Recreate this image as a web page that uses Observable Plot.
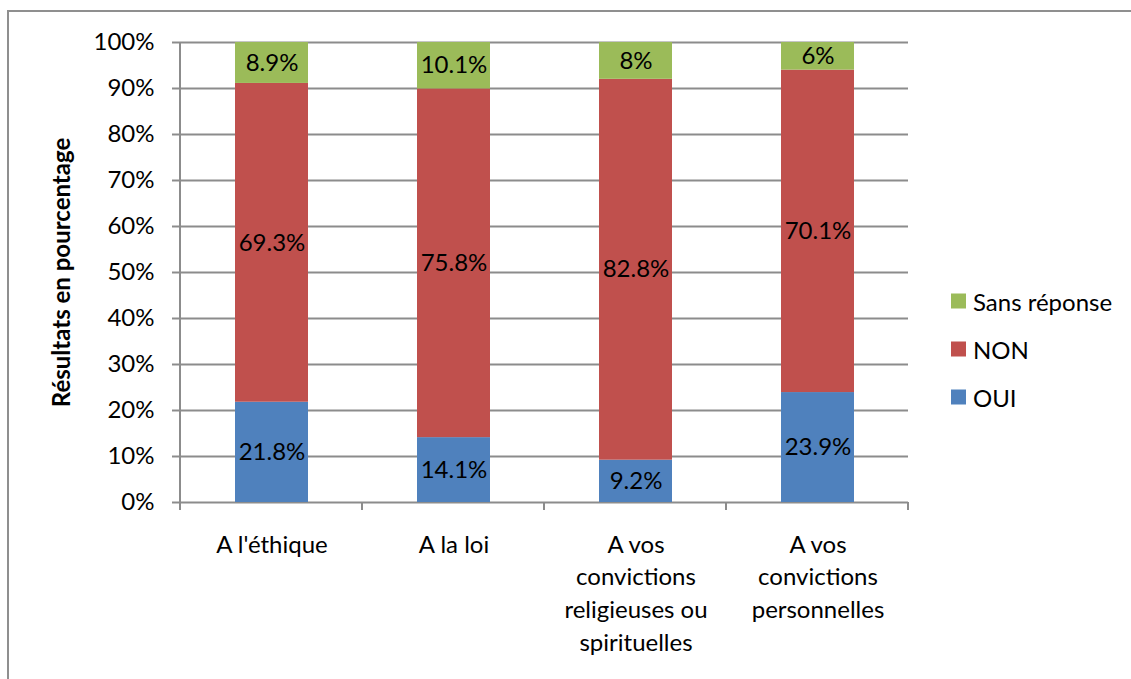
<!DOCTYPE html>
<html>
<head>
<meta charset="utf-8">
<script src="https://cdn.jsdelivr.net/npm/d3@7"></script>
<script src="https://cdn.jsdelivr.net/npm/@observablehq/plot@0.6"></script>
<style>
  html, body { margin: 0; padding: 0; background: #fff; }
  #wrap { position: relative; width: 1131px; height: 679px; overflow: hidden; font-family: Lato, "Open Sans", sans-serif; }
  #border { position: absolute; left: 7px; top: 10px; width: 2000px; height: 2000px; border-left: 2px solid #8f8f8f; border-top: 2px solid #8f8f8f; }
  #legend { position: absolute; left: 951px; top: 0; }
  .item { position: absolute; left: 0; display: flex; align-items: center; white-space: nowrap; font-size: 24px; color: #000; transform: translateY(-50%); }
  .sw { width: 15px; height: 15px; margin-right: 7px; flex: none; }
  #chart { position: absolute; left: 0; top: 0; }
</style>
</head>
<body>
<div id="wrap">
  <div id="border"></div>
  <div id="chart"></div>
  <div id="legend"></div>
</div>
<script>
// ---- Data ----
const categories = ["A l'éthique", "A la loi", "A vos convictions religieuses ou spirituelles", "A vos convictions personnelles"];
const categoryLabels = ["A l'éthique", "A la loi", "A vos\nconvictions\nreligieuses ou\nspirituelles", "A vos\nconvictions\npersonnelles"];
const series = ["OUI", "NON", "Sans réponse"];
const oui = [21.8, 14.1, 9.2, 23.9];
const non = [69.3, 75.8, 82.8, 70.1];
const sansReponse = [8.9, 10.1, 8, 6];
const colors = ["#4F81BD", "#C0504D", "#9BBB59"];
const yTicks = [0, 10, 20, 30, 40, 50, 60, 70, 80, 90, 100];

const values = [oui, non, sansReponse];
const data = [];
series.forEach((s, si) => categories.forEach((c, ci) => data.push({category: c, series: s, value: values[si][ci]})));

const W = 1131, H = 679;
const mL = 180, mR = 223, mT = 42, mB = 177;
const axisColor = "#8c8c8c";
const font = "Lato, 'Open Sans', sans-serif";

// boundary ticks between categories (band-scale layout)
function categoryBoundaries(index, scales, channels, dims) {
  const n = categories.length;
  const L = dims.marginLeft, R = dims.width - dims.marginRight;
  const bottom = dims.height - dims.marginBottom, top = dims.marginTop;
  const step = (R - L) / n;
  const g = document.createElementNS("http://www.w3.org/2000/svg", "g");
  for (let i = 0; i <= n; i++) {
    const x = L + i * step;
    const line = document.createElementNS("http://www.w3.org/2000/svg", "line");
    line.setAttribute("x1", x); line.setAttribute("x2", x);
    line.setAttribute("y1", i === 0 ? top : bottom); line.setAttribute("y2", bottom + 8);
    line.setAttribute("stroke", axisColor); line.setAttribute("stroke-width", 2);
    g.appendChild(line);
  }
  return g;
}

const chart = Plot.plot({
  width: W, height: H,
  marginLeft: mL, marginRight: mR, marginTop: mT, marginBottom: mB,
  style: {fontFamily: font, background: "transparent", overflow: "visible"},
  x: {domain: categories, paddingInner: 0.6, paddingOuter: 0.3, axis: null},
  y: {domain: [0, 100], axis: null},
  color: {domain: series, range: colors},
  marks: [
    Plot.gridY(yTicks, {stroke: axisColor, strokeOpacity: 1, strokeWidth: 2}),
    Plot.axisY(yTicks, {tickSize: 8, tickPadding: 18, tickFormat: d => d + "%", fontSize: 24, fill: "#000", stroke: axisColor, strokeWidth: 2, strokeOpacity: 1, label: null}),
    Plot.barY(data, Plot.stackY({x: "category", y: "value", fill: "series", order: series})),
    Plot.text(data, Plot.stackY({x: "category", y: "value", z: "series", order: series, text: d => d.value + "%", fontSize: 24, fill: "#000"})),
    categoryBoundaries,
    Plot.text(categories, {x: d => d, y: () => 0, text: (d, i) => categoryLabels[i], lineAnchor: "top", dy: 27, fontSize: 24, lineHeight: 1.36, fill: "#000"}),
    Plot.text(["Résultats en pourcentage"], {frameAnchor: "left", dx: -118, rotate: -90, textAnchor: "middle", fontSize: 24, fontWeight: "bold", fill: "#000"})
  ]
});
document.getElementById("chart").appendChild(chart);

// legend
const legend = document.getElementById("legend");
const legendY = {"Sans réponse": 301, "NON": 349, "OUI": 397};
series.slice().reverse().forEach(s => {
  const item = document.createElement("div");
  item.className = "item";
  item.style.top = legendY[s] + "px";
  const sw = document.createElement("span");
  sw.className = "sw";
  sw.style.background = colors[series.indexOf(s)];
  const t = document.createElement("span");
  t.textContent = s;
  item.appendChild(sw); item.appendChild(t);
  legend.appendChild(item);
});
</script>
</body>
</html>
